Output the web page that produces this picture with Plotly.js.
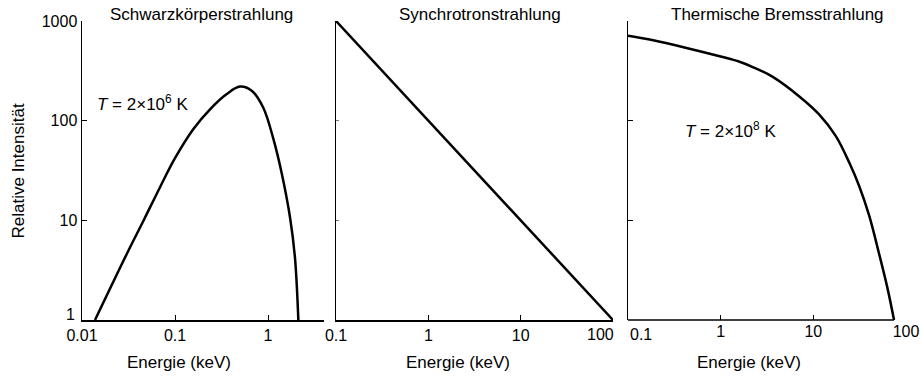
<!DOCTYPE html>
<html>
<head>
<meta charset="utf-8">
<script src="https://cdn.plot.ly/plotly-3.0.1.min.js"></script>
<style>html,body{margin:0;padding:0;background:#fff;}#chart{width:922px;height:378px;}</style>
</head>
<body>
<div id="chart"></div>
<script>
// Schwarzkörperstrahlung (T = 2e6 K)
const bbEnergy = [0.0138, 0.0303, 0.0465, 0.069, 0.1, 0.157, 0.238, 0.36, 0.5, 0.668, 0.89, 1.14, 1.40, 1.73, 1.95, 2.12];
const bbIntensity = [1, 4.6, 10.2, 21.5, 42, 82, 130, 185, 220, 200, 135, 66, 30, 10.5, 4.2, 1];
// Synchrotronstrahlung
const synEnergy = [0.1, 1, 10, 100];
const synIntensity = [1000, 100, 10, 1];
// Thermische Bremsstrahlung (T = 2e8 K)
const brEnergy = [0.1, 0.187, 0.428, 0.975, 1.6, 2.22, 3.65, 7.06, 11.6, 17.5, 24.4, 31.3, 40, 51.3, 63, 74.3];
const brIntensity = [710, 641, 537, 443, 390, 345, 275, 175, 115, 70, 38, 22, 11.2, 4.6, 2.1, 1];

const yTickVals = [1, 10, 100, 1000];
const yTickText = ['', '10', '100', '1000'];
const yLowestLabel = '1';
const x1TickVals = [0.01, 0.1, 1, 4];
const x1TickText = ['0.01', '0.1', '1', ''];
const x2TickVals = [0.1, 1, 10, 100];
const x2TickText = ['0.1', '1', '10', ''];
const x2LastLabel = '100';
const x3TickVals = [0.1, 1, 10, 100];
const x3TickText = ['', '1', '10', '100'];
const x3FirstLabel = '0.1';

const panelTitles = ['Schwarzkörperstrahlung', 'Synchrotronstrahlung', 'Thermische Bremsstrahlung'];
const xTitle = 'Energie (keV)';
const yTitle = 'Relative Intensität';
const tempLabels = ['<i>T</i> = 2×10<sup>6</sup> K', '<i>T</i> = 2×10<sup>8</sup> K'];

const W = 922, H = 378;
const px = v => v / W;
const py = v => 1 - v / H;
const FONT = 'Liberation Sans, Arial, Helvetica, sans-serif';

const lineStyle = {color: '#000', width: 2.5};
const traces = [
  {x: bbEnergy, y: bbIntensity, xaxis: 'x', yaxis: 'y', mode: 'lines', line: Object.assign({shape: 'spline', smoothing: 1}, lineStyle), hoverinfo: 'skip'},
  {x: synEnergy, y: synIntensity, xaxis: 'x2', yaxis: 'y2', mode: 'lines', line: lineStyle, hoverinfo: 'skip'},
  {x: brEnergy, y: brIntensity, xaxis: 'x3', yaxis: 'y3', mode: 'lines', line: Object.assign({shape: 'spline', smoothing: 1}, lineStyle), hoverinfo: 'skip'}
];

const yDomain = [py(320), py(21)];
const baseAxis = {
  type: 'log', showgrid: false, zeroline: false, showline: true, linecolor: '#000', linewidth: 1.5,
  ticks: 'inside', ticklen: 5, tickwidth: 1, tickcolor: '#000', tickmode: 'array',
  tickfont: {family: FONT, size: 16, color: '#000'}, fixedrange: true
};
const yAxisBase = Object.assign({}, baseAxis, {range: [0, 3], domain: yDomain, tickvals: yTickVals, ticktext: yTickText});

const ann = (text, x, y, extra) => Object.assign({text: text, xref: 'paper', yref: 'paper', x: x, y: y, showarrow: false, xanchor: 'center', yanchor: 'middle', font: {size: 17}}, extra || {});

const layout = {
  width: W, height: H,
  margin: {l: 0, r: 0, t: 0, b: 0},
  paper_bgcolor: '#fff', plot_bgcolor: '#fff',
  showlegend: false,
  font: {family: FONT, color: '#000'},
  xaxis: Object.assign({}, baseAxis, {domain: [px(82), px(324)], range: [-2, Math.log10(4)], anchor: 'y', tickvals: x1TickVals, ticktext: x1TickText}),
  yaxis: Object.assign({}, yAxisBase, {anchor: 'x'}),
  xaxis2: Object.assign({}, baseAxis, {domain: [px(336), px(613)], range: [-1, 2], anchor: 'y2', tickvals: x2TickVals, ticktext: x2TickText}),
  yaxis2: Object.assign({}, yAxisBase, {anchor: 'x2', showticklabels: false, ticklen: 3, tickcolor: '#777'}),
  xaxis3: Object.assign({}, baseAxis, {domain: [px(628), px(906)], range: [-1, 2], anchor: 'y3', showline: false, tickvals: x3TickVals, ticktext: x3TickText}),
  yaxis3: Object.assign({}, yAxisBase, {anchor: 'x3', showticklabels: false}),
  shapes: [
    {type: 'line', xref: 'x3', yref: 'y3 domain', x0: brEnergy[0], x1: brEnergy[brEnergy.length - 1], y0: 0, y1: 0, line: {color: '#000', width: 1.5}}
  ],
  annotations: [
    ann(panelTitles[0], px(201), py(15)),
    ann(panelTitles[1], px(479.5), py(15)),
    ann(panelTitles[2], px(777.5), py(15)),
    ann(xTitle, px(179), py(362)),
    ann(xTitle, px(458), py(362)),
    ann(xTitle, px(749), py(362)),
    ann(yTitle, px(18), py(171.5), {textangle: -90}),
    ann(tempLabels[0], px(95), py(103), {xanchor: 'left'}),
    ann(tempLabels[1], px(683), py(130), {xanchor: 'left'}),
    ann(yLowestLabel, px(77), Math.log10(yTickVals[0]), {yref: 'y', xanchor: 'right', yshift: 6, font: {size: 16}}),
    ann(x2LastLabel, px(616), py(334), {xanchor: 'right', font: {size: 16}}),
    ann(x3FirstLabel, px(628), py(334), {xanchor: 'left', font: {size: 16}})
  ]
};

Plotly.newPlot('chart', traces, layout, {staticPlot: true, displayModeBar: false});
</script>
</body>
</html>
